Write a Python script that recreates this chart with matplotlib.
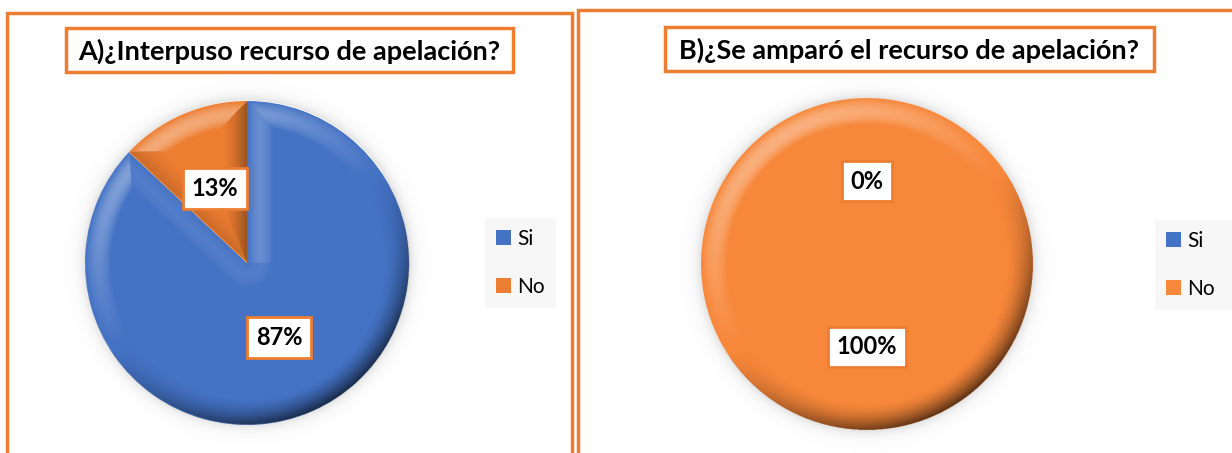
import numpy as np
import matplotlib.pyplot as plt
from matplotlib.patches import Rectangle, Patch

plt.rcParams['font.family'] = ['Lato', 'DejaVu Sans']

# Data
categorias = ['Si', 'No']
valores_a = [87, 13]
valores_b = [0, 100]
titulo_a = 'A)¿Interpuso recurso de apelación?'
titulo_b = 'B)¿Se amparó el recurso de apelación?'

AZUL = '#4472C4'
NARANJA = '#ED7D31'
NARANJA_B = '#F7873A'

W, H = 1232, 453
fig = plt.figure(figsize=(W / 100, H / 100), dpi=100)


def fx(x):
    return x / W


def fy(y):
    return 1 - y / H


def caja(x0, y0, x1, y1, lw=2.5):
    # rectangle in pixel coords (top-left origin)
    fig.patches.append(Rectangle((fx(x0), fy(y1)), fx(x1) - fx(x0), fy(y0) - fy(y1),
                                 transform=fig.transFigure, facecolor='none',
                                 edgecolor=NARANJA, linewidth=lw, clip_on=False))


def sombreado(ax, wedges, w=0.16):
    # fake 3D bevel: shade a band along the edges of each slice
    n = 700
    L = 1.15
    g = np.linspace(-L, L, n)
    X, Y = np.meshgrid(g, g)
    R = np.hypot(X, Y)
    ang = np.degrees(np.arctan2(Y, X))
    luz = np.array([-0.55, 0.83])
    rgba = np.zeros((n, n, 4))
    for wd in wedges:
        t1, t2 = wd.theta1, wd.theta2
        if abs(t2 - t1) < 1e-6:
            continue
        span = (t2 - t1) % 360 if abs(t2 - t1) < 360 else 360
        rel = (ang - t1) % 360
        dentro = (rel <= span) & (R <= 1)
        dists = [1 - R]
        nx = [X / np.maximum(R, 1e-9)]
        ny = [Y / np.maximum(R, 1e-9)]
        if span < 360:
            for a, sg in [(np.radians(t1), 1), (np.radians(t2), -1)]:
                ux, uy = np.cos(a), np.sin(a)
                proy = X * ux + Y * uy
                d = np.where(proy > 0, np.abs(X * uy - Y * ux), R)
                dists.append(d)
                nx.append(np.full_like(X, sg * uy))
                ny.append(np.full_like(X, -sg * ux))
        D = np.stack(dists)
        idx = np.argmin(D, axis=0)
        d = np.take_along_axis(D, idx[None], 0)[0]
        NX = np.take_along_axis(np.stack(nx), idx[None], 0)[0]
        NY = np.take_along_axis(np.stack(ny), idx[None], 0)[0]
        s = NX * luz[0] + NY * luz[1]
        t = np.clip(1 - d / w, 0, 1)
        m = dentro & (t > 0)
        osc = m & (s < 0)
        cla = m & (s >= 0)
        rgba[osc, 3] = (-s[osc]) * t[osc] ** 1.6 * 0.65
        rgba[cla, :3] = 1
        rgba[cla, 3] = s[cla] * np.sin(np.pi * t[cla]) * 0.35
    # soft shadow around the pie
    fuera = (R > 1) & (R < L)
    rgba[fuera, :3] = 0.45
    rgba[fuera, 3] = 0.22 * np.exp(-(R[fuera] - 1) / 0.035)
    ax.imshow(rgba, extent=(-L, L, -L, L), origin='lower', zorder=3,
              interpolation='bilinear')


def torta(cx, cy, r, valores, colores):
    L = 1.15
    ax = fig.add_axes([fx(cx - r * L), fy(cy + r * L), 2 * r * L / W, 2 * r * L / H])
    wedges, textos, pcts = ax.pie(valores, colors=colores, startangle=90, counterclock=False,
                                  radius=1, autopct='%1.0f%%', pctdistance=0.5,
                                  wedgeprops=dict(linewidth=0),
                                  textprops=dict(fontsize=17, fontweight='bold', color='black'))
    for p in pcts:
        p.set_zorder(5)
        p.set_bbox(dict(boxstyle='square,pad=0.38', facecolor='white',
                        edgecolor=NARANJA, linewidth=2))
    sombreado(ax, wedges)
    ax.set_xlim(-L, L)
    ax.set_ylim(-L, L)
    ax.set_aspect('equal')
    ax.axis('off')
    return ax


# Panel frames
caja(7, 13, 572, 470)
caja(578, 10, 1250, 470)

# Titles
caja(66, 28, 513, 72)
fig.text(fx(289.5), fy(51), titulo_a, ha='center', va='center', fontsize=19.5, fontweight='bold')
caja(665, 27, 1154, 71)
fig.text(fx(909.5), fy(50), titulo_b, ha='center', va='center', fontsize=19.5, fontweight='bold')

# Pies
torta(247, 263, 162, valores_a, [AZUL, NARANJA])
torta(867, 264, 166, valores_b, [AZUL, NARANJA_B])

# Legends
for x0, x1, yc, cols in [(485, 556, 263, [AZUL, NARANJA]), (1155, 1232, 265, [AZUL, NARANJA_B])]:
    fig.patches.append(Rectangle((fx(x0), fy(yc + 45)), fx(x1) - fx(x0), fy(yc - 45) - fy(yc + 45),
                                 transform=fig.transFigure, facecolor='#F7F7F7',
                                 edgecolor='none', zorder=0))
    handles = [Patch(facecolor=c, edgecolor='none') for c in cols]
    fig.legend(handles, categorias, loc='center left', bbox_to_anchor=(fx(x0 + 11), fy(yc)),
               frameon=False, fontsize=15, handlelength=0.7, handleheight=0.7,
               handletextpad=0.3, labelspacing=1.35, borderpad=0, borderaxespad=0)

fig.savefig('out.png', dpi=100, facecolor='white')
